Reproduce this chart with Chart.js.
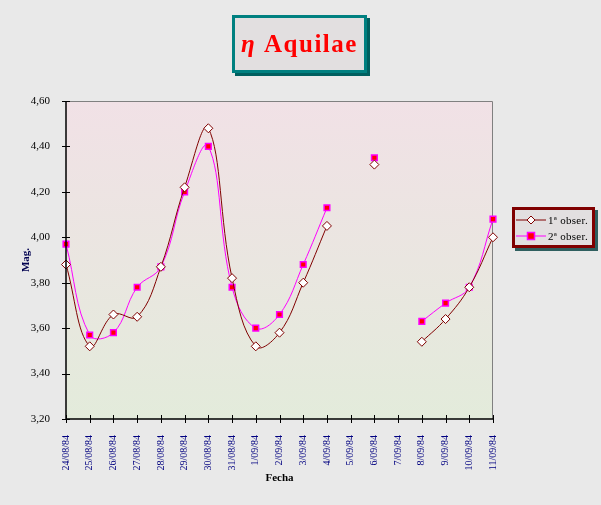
<!DOCTYPE html>
<html>
<head>
<meta charset="utf-8">
<script src="https://cdn.jsdelivr.net/npm/chart.js@4"></script>
<style>
  body { margin: 0; background: #e9e9e9; }
  #wrap { position: relative; width: 601px; height: 505px; }
  #titleBox {
    position: absolute; left: 232px; top: 15px; width: 129px; height: 52px;
    border: 3px solid #008080; background: #e2dfe0;
    box-shadow: 3px 3px 0 #005f5f;
    font-family: "Liberation Serif", serif; font-weight: bold; font-size: 25px;
    color: #ff0000; letter-spacing: 1.5px; text-align: center; line-height: 52px;
  }
  #legendBox {
    position: absolute; left: 512px; top: 207px; width: 77px; height: 35px;
    border: 3px solid #800000; background: #e2dfe0;
    box-shadow: 3px 3px 0 #2f5f5f;
    font-family: "Liberation Serif", serif; font-size: 11px; letter-spacing: 0.3px;
  }
  .row { position: absolute; left: 1px; height: 14px; display: flex; align-items: center; white-space: nowrap; }
  .row svg { margin-right: 2px; flex: none; }
</style>
</head>
<body>
<div id="wrap">
  <canvas id="chart" width="601" height="505"></canvas>
  <div id="titleBox"><i>η</i> Aquilae</div>
  <div id="legendBox">
    <div class="row" style="top:3px">
      <svg width="30" height="12"><line x1="0" y1="6" x2="30" y2="6" stroke="#800000" stroke-width="1"/><polygon points="15,2 19,6 15,10 11,6" fill="#fff" stroke="#800000"/></svg>1ª obser.
    </div>
    <div class="row" style="top:19px">
      <svg width="30" height="12"><line x1="0" y1="6" x2="30" y2="6" stroke="#ff00ff" stroke-width="1"/><rect x="11.5" y="2.5" width="7" height="7" fill="#ff0000" stroke="#ff00ff" stroke-width="1.5"/></svg>2ª obser.
    </div>
  </div>
</div>
<script>
const fechas = ["24/08/84", "25/08/84", "26/08/84", "27/08/84", "28/08/84", "29/08/84", "30/08/84",
  "31/08/84", "1/09/84", "2/09/84", "3/09/84", "4/09/84", "5/09/84", "6/09/84", "7/09/84",
  "8/09/84", "9/09/84", "10/09/84", "11/09/84"];
const obser1 = [3.88, 3.52, 3.66, 3.65, 3.87, 4.22, 4.48, 3.82, 3.52, 3.58, 3.80, 4.05,
  null, 4.32, null, 3.54, 3.64, 3.78, 4.00];
const obser2 = [3.97, 3.57, 3.58, 3.78, 3.87, 4.20, 4.40, 3.78, 3.60, 3.66, 3.88, 4.13,
  null, 4.35, null, 3.63, 3.71, 3.78, 4.08];
const magTicks = [3.2, 3.4, 3.6, 3.8, 4.0, 4.2, 4.4, 4.6];

const plotArea = {
  id: "plotArea",
  beforeDraw(chart) {
    const { ctx, chartArea: a } = chart;
    const g = ctx.createLinearGradient(0, a.top, 0, a.bottom);
    g.addColorStop(0, "#f1e1e6");
    g.addColorStop(1, "#e3ebdb");
    ctx.save();
    ctx.fillStyle = g;
    ctx.fillRect(a.left, a.top, a.right - a.left, a.bottom - a.top);
    ctx.strokeStyle = "#808080";
    ctx.lineWidth = 1;
    ctx.beginPath();
    ctx.moveTo(a.left, a.top + 0.5);
    ctx.lineTo(a.right - 0.5, a.top + 0.5);
    ctx.lineTo(a.right - 0.5, a.bottom);
    ctx.stroke();
    ctx.restore();
  },
  afterDraw(chart) {
    const { ctx, chartArea: a, scales } = chart;
    ctx.save();
    ctx.strokeStyle = "#000";
    ctx.lineWidth = 1.5;
    ctx.beginPath();
    ctx.moveTo(a.left, a.top);
    ctx.lineTo(a.left, a.bottom);
    ctx.lineTo(a.right, a.bottom);
    ctx.stroke();
    ctx.lineWidth = 1;
    ctx.beginPath();
    scales.y.ticks.forEach((t, i) => {
      const y = Math.round(scales.y.getPixelForTick(i)) + 0.5;
      ctx.moveTo(a.left - 4, y);
      ctx.lineTo(a.left + 4, y);
    });
    scales.x.ticks.forEach((t, i) => {
      const x = Math.round(scales.x.getPixelForTick(i)) + 0.5;
      ctx.moveTo(x, a.bottom - 4);
      ctx.lineTo(x, a.bottom + 4);
    });
    ctx.stroke();
    ctx.restore();
  }
};

new Chart(document.getElementById("chart"), {
  type: "line",
  data: {
    labels: fechas,
    datasets: [{
      label: "1ª obser.",
      data: obser1,
      borderColor: "#800000",
      borderWidth: 1,
      tension: 0.4,
      pointStyle: "rectRot",
      pointRadius: 4.5,
      pointBackgroundColor: "#ffffff",
      pointBorderColor: "#800000",
      pointBorderWidth: 1
    }, {
      label: "2ª obser.",
      data: obser2,
      borderColor: "#ff00ff",
      borderWidth: 1,
      tension: 0.4,
      pointStyle: "rect",
      pointRadius: 4,
      pointBackgroundColor: "#ff0000",
      pointBorderColor: "#ff00ff",
      pointBorderWidth: 1.5
    }]
  },
  options: {
    responsive: false,
    animation: false,
    spanGaps: false,
    layout: { padding: { left: 0, top: 101, right: 108, bottom: 0 } },
    plugins: { legend: { display: false }, tooltip: { enabled: false } },
    scales: {
      x: {
        grid: { display: false },
        border: { display: false },
        afterFit(s) { s.height = 86; },
        ticks: {
          autoSkip: false, minRotation: 90, maxRotation: 90, padding: 8,
          color: "#000080", font: { family: "Liberation Serif", size: 10 }
        },
        title: {
          display: true, text: "Fecha", color: "#000",
          font: { family: "Liberation Serif", size: 11, weight: "bold" },
          padding: { top: 0, bottom: 20 }
        }
      },
      y: {
        min: 3.2, max: 4.6,
        grid: { display: false },
        border: { display: false },
        afterFit(s) { s.width = 66; },
        afterBuildTicks(s) { s.ticks = magTicks.map(v => ({ value: v })); },
        ticks: {
          padding: 8, color: "#000",
          font: { family: "Liberation Serif", size: 11 },
          callback: v => v.toFixed(2).replace(".", ",")
        },
        title: {
          display: true, text: "Mag.", color: "#000050",
          font: { family: "Liberation Serif", size: 11, weight: "bold" },
          padding: { top: 20, bottom: 0 }
        }
      }
    }
  },
  plugins: [plotArea]
});
</script>
</body>
</html>
